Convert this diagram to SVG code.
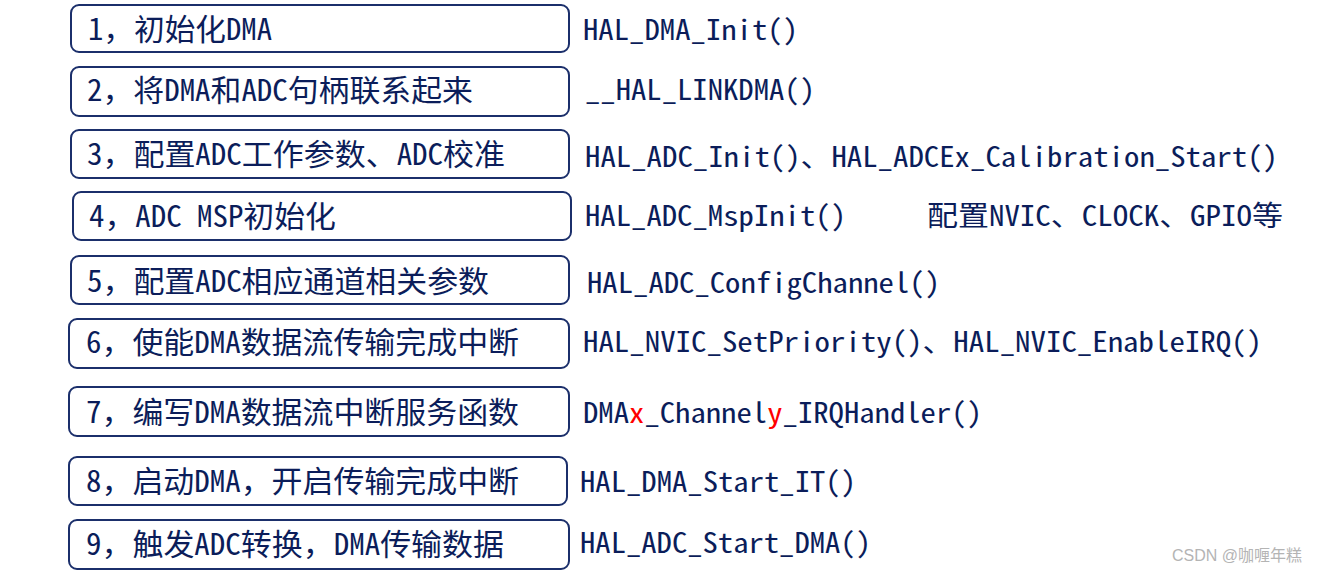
<svg xmlns="http://www.w3.org/2000/svg" width="1324" height="574" viewBox="0 0 1324 574">
<style>
.box{fill:#ffffff;stroke:#1b2f6b;stroke-width:2}
.lbl{font-family:"Noto Sans Mono CJK SC","Noto Sans CJK SC",sans-serif;font-size:30px;font-weight:500;fill:#0b1d5a}
.fn{font-family:"Noto Sans Mono CJK SC","Liberation Mono","Noto Sans CJK SC",monospace;font-size:28px;fill:#0b1d5a}
.red{fill:#ff0000}
.wm{font-family:"Liberation Sans","Noto Sans CJK SC",sans-serif;font-size:16px;fill:#b4b4b4}
</style>
<rect width="1324" height="574" fill="#ffffff"/>
<g id="step1">
<rect class="box" x="71" y="5" width="498" height="47" rx="8"/>
<text class="lbl" x="88" y="40" textLength="184" lengthAdjust="spacingAndGlyphs">1，初始化DMA</text>
<text class="fn" x="583" y="40" textLength="215" lengthAdjust="spacingAndGlyphs">HAL_DMA_Init()</text>
</g>
<g id="step2">
<rect class="box" x="71" y="67" width="498" height="49" rx="8"/>
<text class="lbl" x="87" y="101" textLength="386" lengthAdjust="spacingAndGlyphs">2，将DMA和ADC句柄联系起来</text>
<text class="fn" x="585" y="100" textLength="230" lengthAdjust="spacingAndGlyphs">__HAL_LINKDMA()</text>
</g>
<g id="step3">
<rect class="box" x="71" y="130" width="498" height="48" rx="8"/>
<text class="lbl" x="87" y="165" textLength="418" lengthAdjust="spacingAndGlyphs">3，配置ADC工作参数、ADC校准</text>
<text class="fn" x="585" y="167" textLength="693" lengthAdjust="spacingAndGlyphs">HAL_ADC_Init()、HAL_ADCEx_Calibration_Start()</text>
</g>
<g id="step4">
<rect class="box" x="73" y="192" width="498" height="48" rx="8"/>
<text class="lbl" x="89" y="227" textLength="247" lengthAdjust="spacingAndGlyphs">4，ADC MSP初始化</text>
<text class="fn" x="585" y="226" textLength="261" lengthAdjust="spacingAndGlyphs">HAL_ADC_MspInit()</text>
<text class="fn" x="927" y="226" textLength="356" lengthAdjust="spacingAndGlyphs">配置NVIC、CLOCK、GPIO等</text>
</g>
<g id="step5">
<rect class="box" x="71" y="256" width="498" height="48" rx="8"/>
<text class="lbl" x="87" y="292" textLength="402" lengthAdjust="spacingAndGlyphs">5，配置ADC相应通道相关参数</text>
<text class="fn" x="587" y="293" textLength="353" lengthAdjust="spacingAndGlyphs">HAL_ADC_ConfigChannel()</text>
</g>
<g id="step6">
<rect class="box" x="69" y="319" width="500" height="49" rx="8"/>
<text class="lbl" x="86" y="353" textLength="433" lengthAdjust="spacingAndGlyphs">6，使能DMA数据流传输完成中断</text>
<text class="fn" x="583" y="352" textLength="679" lengthAdjust="spacingAndGlyphs">HAL_NVIC_SetPriority()、HAL_NVIC_EnableIRQ()</text>
</g>
<g id="step7">
<rect class="box" x="69" y="387" width="500" height="49" rx="8"/>
<text class="lbl" x="86" y="423" textLength="433" lengthAdjust="spacingAndGlyphs">7，编写DMA数据流中断服务函数</text>
<text class="fn" x="583" y="423" textLength="399" lengthAdjust="spacingAndGlyphs">DMA<tspan class="red">x</tspan>_Channel<tspan class="red">y</tspan>_IRQHandler()</text>
</g>
<g id="step8">
<rect class="box" x="69" y="457" width="498" height="48" rx="8"/>
<text class="lbl" x="86" y="492" textLength="433" lengthAdjust="spacingAndGlyphs">8，启动DMA，开启传输完成中断</text>
<text class="fn" x="580" y="492" textLength="276" lengthAdjust="spacingAndGlyphs">HAL_DMA_Start_IT()</text>
</g>
<g id="step9">
<rect class="box" x="69" y="520" width="500" height="49" rx="8"/>
<text class="lbl" x="86" y="555" textLength="418" lengthAdjust="spacingAndGlyphs">9，触发ADC转换，DMA传输数据</text>
<text class="fn" x="580" y="553" textLength="291" lengthAdjust="spacingAndGlyphs">HAL_ADC_Start_DMA()</text>
</g>
<text class="wm" x="1172" y="561">CSDN @咖喱年糕</text>
</svg>
